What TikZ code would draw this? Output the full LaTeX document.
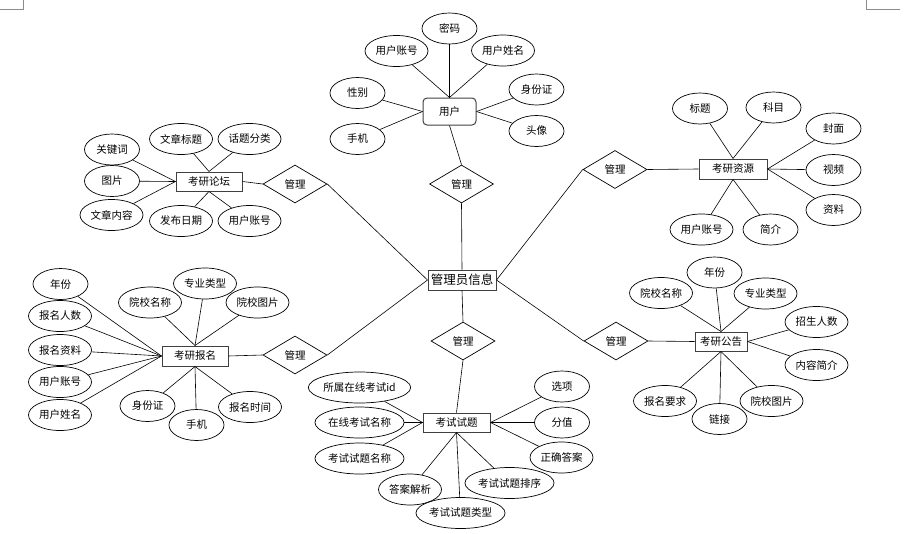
\documentclass[tikz,border=0pt]{standalone}
\usepackage{fontspec}
\newfontfamily\cjk{Noto Sans CJK SC}
\usetikzlibrary{shapes.geometric}
\begin{document}
\begin{tikzpicture}[x=1pt,y=-1pt,
  txt/.style={font=\cjk\fontsize{10.5}{12}\selectfont},
  attr/.style={ellipse,draw,line width=0.7pt,inner sep=0pt,minimum height=31pt,minimum width=55pt,txt},
  wa/.style={minimum width=63pt},
  wb/.style={minimum width=85pt},
  wc/.style={minimum width=95pt},
  ent/.style={rectangle,draw=black!75,line width=1pt,inner sep=0pt,minimum height=19pt,txt},
  rel/.style={diamond,draw,line width=0.7pt,inner sep=0pt,minimum width=64pt,minimum height=38pt,txt},
  link/.style={line width=0.6pt},
  cornermark/.style={draw=black!45,line width=0.8pt}]
\useasboundingbox (0,0) rectangle (910,533);
% corner marks
\coordinate (tl1) at (0,9); \coordinate (tl2) at (23,9); \coordinate (tl3) at (23,0);
\coordinate (tr1) at (866,0); \coordinate (tr2) at (866,9); \coordinate (tr3) at (900,9);
\draw[cornermark] (tl1) -- (tl2) -- (tl3);
\draw[cornermark] (tr1) -- (tr2) -- (tr3);

% central entity
\node[ent,minimum width=68pt,minimum height=20pt,font=\cjk\fontsize{12.5}{14}\selectfont] (m) at (462,280) {管理员信息};

% relationships
\node[rel] (d1) at (461.5,184) {管理};
\node[rel] (d2) at (295,184) {管理};
\node[rel] (d3) at (615,169.5) {管理};
\node[rel] (d4) at (295,355) {管理};
\node[rel] (d5) at (616,341) {管理};
\node[rel] (d6) at (463,341) {管理};

% entities
\node[ent,rounded corners=4pt,minimum width=53pt,minimum height=27pt] (u) at (449.5,111.5) {用户};
\node[ent,minimum width=66pt] (lt) at (209,181.5) {考研论坛};
\node[ent,minimum width=68pt,minimum height=20pt] (zy) at (733,169) {考研资源};
\node[ent,minimum width=66pt,minimum height=20pt] (bm) at (195,356) {考研报名};
\node[ent,minimum width=52pt] (gg) at (721,341.5) {考研公告};
\node[ent,minimum width=67pt] (st) at (456.5,422.5) {考试试题};

% relationship links
\draw[link] (u.south) -- (d1.north);
\draw[link] (d1.south) -- (m.north);
\draw[link] (lt.east) -- (d2.west);
\draw[link] (d2.east) -- (m.west);
\draw[link] (zy.west) -- (d3.east);
\draw[link] (d3.west) -- (m.east);
\draw[link] (bm.east) -- (d4.west);
\draw[link] (d4.east) -- (m.west);
\draw[link] (gg.west) -- (d5.east);
\draw[link] (d5.west) -- (m.east);
\draw[link] (m.south) -- (d6.north);
\draw[link] (d6.south) -- (st.north);

% 用户 attributes
\node[attr] (u1) at (449.5,28.5) {密码};
\node[attr,wa] (u2) at (396.5,51) {用户账号};
\node[attr,wa] (u3) at (503,50.5) {用户姓名};
\node[attr] (u4) at (357.5,93) {性别};
\node[attr] (u5) at (357.5,139) {手机};
\node[attr] (u6) at (536.5,89.5) {身份证};
\node[attr] (u7) at (536.5,131) {头像};
\draw[link] (u1) -- (u.north);
\draw[link] (u2) -- (u.north);
\draw[link] (u3) -- (u.north);
\draw[link] (u4) -- (u.west);
\draw[link] (u5) -- (u.west);
\draw[link] (u6) -- (u.east);
\draw[link] (u7) -- (u.east);

% 考研资源 attributes
\node[attr] (z1) at (700,108.5) {标题};
\node[attr] (z2) at (773.5,107.5) {科目};
\node[attr] (z3) at (833.5,128.5) {封面};
\node[attr] (z4) at (833.5,170) {视频};
\node[attr] (z5) at (833.5,210) {资料};
\node[attr,wa] (z6) at (701.5,229.5) {用户账号};
\node[attr] (z7) at (770.5,229.5) {简介};
\draw[link] (z1) -- (zy.north);
\draw[link] (z2) -- (zy.north);
\draw[link] (z3) -- (zy.east);
\draw[link] (z4) -- (zy.east);
\draw[link] (z5) -- (zy.east);
\draw[link] (z6) -- (zy.south);
\draw[link] (z7) -- (zy.south);

% 考研论坛 attributes
\node[attr] (l1) at (112,149.5) {关键词};
\node[attr] (l2) at (112,181) {图片};
\node[attr,wa] (l3) at (111.5,215) {文章内容};
\node[attr,wa] (l4) at (181,139) {文章标题};
\node[attr,wa] (l5) at (249.5,139) {话题分类};
\node[attr,wa] (l6) at (181,221) {发布日期};
\node[attr,wa] (l7) at (249.5,221) {用户账号};
\draw[link] (l1) -- (lt.west);
\draw[link] (l2) -- (lt.west);
\draw[link] (l3) -- (lt.west);
\draw[link] (l4) -- (lt.north);
\draw[link] (l5) -- (lt.north);
\draw[link] (l6) -- (lt.south);
\draw[link] (l7) -- (lt.south);

% 考研报名 attributes
\node[attr] (b1) at (60.5,284) {年份};
\node[attr,wa] (b2) at (60,316) {报名人数};
\node[attr,wa] (b3) at (60,350) {报名资料};
\node[attr,wa] (b4) at (60,382) {用户账号};
\node[attr,wa] (b5) at (60,415) {用户姓名};
\node[attr,wa] (b6) at (150,302.5) {院校名称};
\node[attr,wa] (b7) at (205,283.5) {专业类型};
\node[attr,wa] (b8) at (257.5,302.5) {院校图片};
\node[attr] (b9) at (147.5,406) {身份证};
\node[attr] (b10) at (196.5,425) {手机};
\node[attr,wa] (b11) at (250,407) {报名时间};
\draw[link] (b1) -- (bm.west);
\draw[link] (b2) -- (bm.west);
\draw[link] (b3) -- (bm.west);
\draw[link] (b4) -- (bm.west);
\draw[link] (b5) -- (bm.west);
\draw[link] (b6) -- (bm.north);
\draw[link] (b7) -- (bm.north);
\draw[link] (b8) -- (bm.north);
\draw[link] (b9) -- (bm.south);
\draw[link] (b10) -- (bm.south);
\draw[link] (b11) -- (bm.south);

% 考试试题 attributes
\node[attr,wc] (s1) at (359.5,387.5) {所属在线考试id};
\node[attr,wb] (s2) at (359.5,422.5) {在线考试名称};
\node[attr,wb] (s3) at (359.5,458.5) {考试试题名称};
\node[attr] (s4) at (562,386.5) {选项};
\node[attr] (s5) at (562,422.5) {分值};
\node[attr,wa] (s6) at (561.5,457.5) {正确答案};
\node[attr,wb] (s7) at (509.5,483) {考试试题排序};
\node[attr,wa] (s8) at (410,489.5) {答案解析};
\node[attr,wb] (s9) at (460.5,513) {考试试题类型};
\draw[link] (s1) -- (st.west);
\draw[link] (s2) -- (st.west);
\draw[link] (s3) -- (st.west);
\draw[link] (s4) -- (st.east);
\draw[link] (s5) -- (st.east);
\draw[link] (s6) -- (st.east);
\draw[link] (s7) -- (st.south);
\draw[link] (s8) -- (st.south);
\draw[link] (s9) -- (st.south);

% 考研公告 attributes
\node[attr] (g1) at (714.5,272.5) {年份};
\node[attr,wa] (g2) at (661,293) {院校名称};
\node[attr,wa] (g3) at (765.5,293.5) {专业类型};
\node[attr,wa] (g4) at (816.5,322) {招生人数};
\node[attr,wa] (g5) at (816.5,365) {内容简介};
\node[attr,wa] (g6) at (665,401) {报名要求};
\node[attr] (g7) at (719.5,419) {链接};
\node[attr,wa] (g8) at (771.5,401) {院校图片};
\draw[link] (g1) -- (gg.north);
\draw[link] (g2) -- (gg.north);
\draw[link] (g3) -- (gg.north);
\draw[link] (g4) -- (gg.east);
\draw[link] (g5) -- (gg.east);
\draw[link] (g6) -- (gg.south);
\draw[link] (g7) -- (gg.south);
\draw[link] (g8) -- (gg.south);
\end{tikzpicture}
\end{document}
